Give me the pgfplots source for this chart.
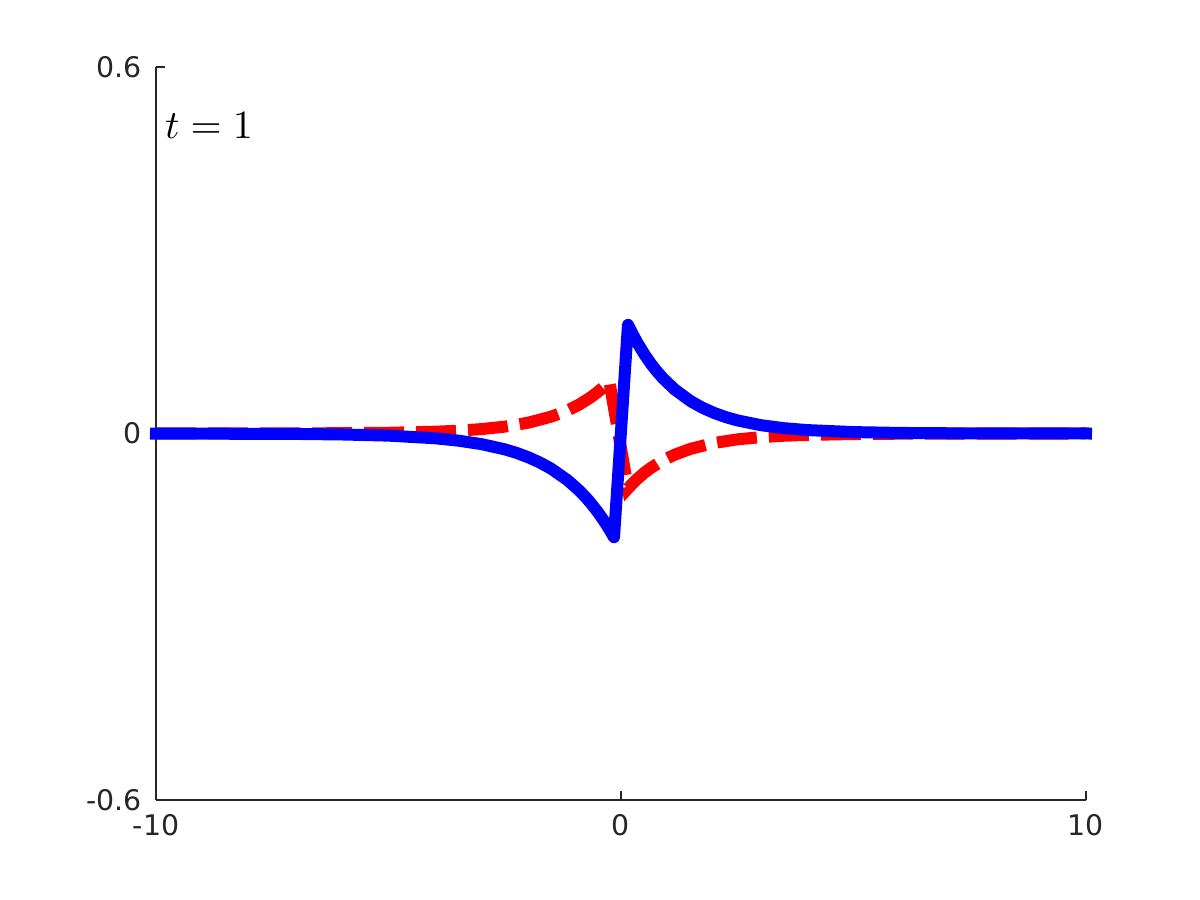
\documentclass[border=0pt]{standalone}
\usepackage{fontspec}
\setmainfont{DejaVu Sans}
\usepackage{pgfplots}
\pgfplotsset{compat=1.18}
\definecolor{axgray}{rgb}{0.15,0.15,0.15}
\begin{document}
\begin{tikzpicture}
\begin{axis}[
  scale only axis,
  width=232.5pt, height=183.25pt,
  xmin=-10, xmax=10, ymin=-0.6, ymax=0.6,
  axis x line*=bottom, axis y line*=left,
  axis line style={-, axgray, line width=0.5pt},
  xtick={-10,0,10}, xticklabels={-10,0,10},
  ytick={-0.6,0,0.6}, yticklabels={-0.6,0,0.6},
  tick align=inside,
  major tick length=2.25pt,
  tick style={axgray, line width=0.5pt},
  ticklabel style={font=\fontsize{7.1}{8}\selectfont, text=axgray},
  clip=false,
]
\addplot[red, line width=3pt, dash pattern=on 10pt off 3pt, line join=miter] coordinates {
(-10,0) (-7,0.0002) (-6,0.0005) (-5,0.0012) (-4,0.0029) (-3.5,0.0046)
(-3,0.0072) (-2.5,0.0112) (-2,0.0176) (-1.5,0.0276) (-1.15,0.0378)
(-0.9,0.0473) (-0.65,0.0593) (-0.5,0.0679) (-0.35,0.0777) (-0.25,0.085)
(0.15,-0.090) (0.25,-0.0818) (0.35,-0.0744) (0.5,-0.0645) (0.65,-0.0560)
(0.9,-0.0441) (1.15,-0.0348) (1.5,-0.0250) (2,-0.0155) (2.5,-0.0096)
(3,-0.0060) (3.5,-0.0037) (4,-0.0023) (5,-0.0009) (6,-0.00035) (7,-0.00014) (10,0)
};
\addplot[blue, line width=3pt, line cap=rect, line join=round] coordinates {
(-10,-0.0001) (-7,-0.0007) (-6,-0.0016) (-5,-0.0035) (-4,-0.0078) (-3.5,-0.0117)
(-3,-0.0174) (-2.5,-0.0259) (-2.25,-0.0317) (-2,-0.0387) (-1.75,-0.0473)
(-1.5,-0.0577) (-1.15,-0.0764) (-0.9,-0.0933) (-0.75,-0.1052) (-0.65,-0.1140)
(-0.5,-0.1285) (-0.35,-0.1449) (-0.25,-0.1569) (-0.15,-0.170)
(0.15,0.178) (0.25,0.1627) (0.35,0.1487) (0.5,0.1299) (0.65,0.1135)
(0.75,0.1037) (0.9,0.0906) (1.15,0.0724) (1.5,0.0528) (1.75,0.0422)
(2,0.0337) (2.25,0.0269) (2.5,0.0215) (3,0.0137) (3.5,0.0087)
(4,0.0056) (5,0.0023) (6,0.0009) (7,0.0004) (10,0)
};
\node[anchor=base west, inner sep=0pt, font=\fontsize{10}{12}\selectfont] at (rel axis cs:0.009,0.903) {$t=1$};
\end{axis}
\pgfresetboundingbox
\useasboundingbox (-39pt,-25pt) rectangle (261pt,200pt);
\end{tikzpicture}
\end{document}
